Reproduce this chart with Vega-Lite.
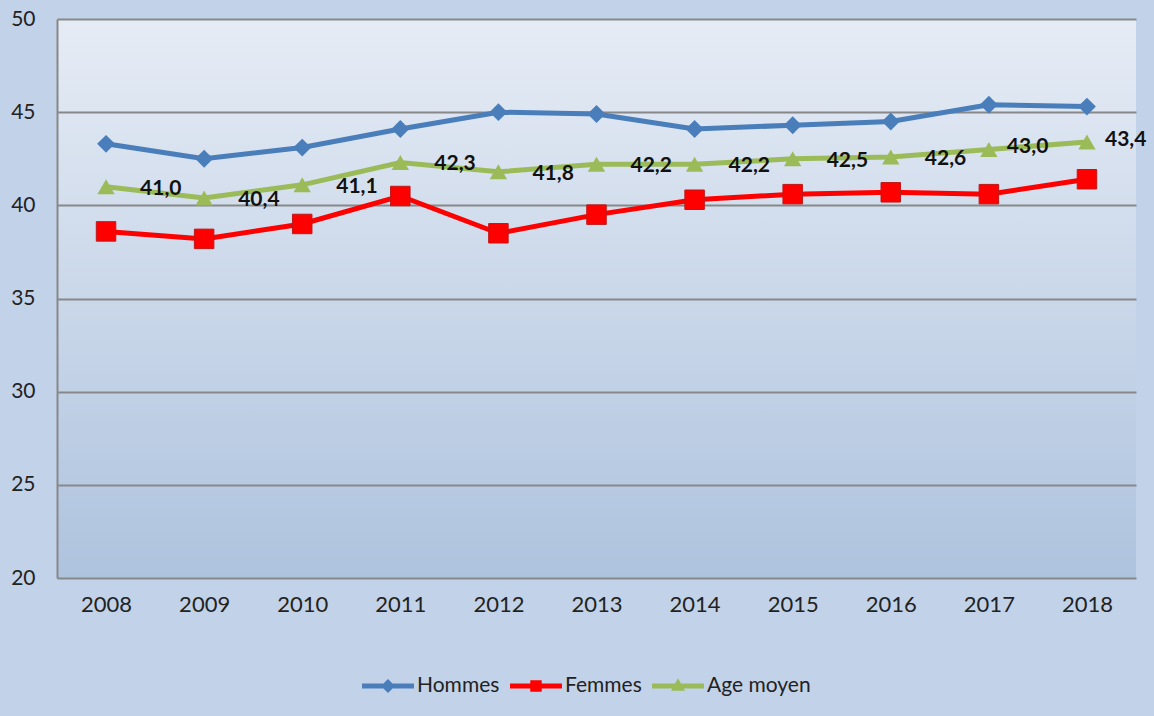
{
  "$schema": "https://vega.github.io/schema/vega-lite/v6.json",
  "width": 1079,
  "height": 559,
  "autosize": "none",
  "padding": {"left": 57, "top": 19, "right": 18, "bottom": 138},
  "background": "#c2d2e8",
  "config": {
    "font": "Lato",
    "view": {
      "stroke": null,
      "fill": {"gradient": "linear", "x1": 0, "y1": 0, "x2": 0, "y2": 1,
        "stops": [{"offset": 0, "color": "#e6ecf5"}, {"offset": 1, "color": "#aec3de"}]}
    },
    "locale": {"number": {"decimal": ",", "thousands": " ", "grouping": [3], "currency": ["", " €"]}}
  },
  "data": {
    "values": [
      {"year": "2008", "serie": "Hommes", "value": 43.3},
      {"year": "2009", "serie": "Hommes", "value": 42.5},
      {"year": "2010", "serie": "Hommes", "value": 43.1},
      {"year": "2011", "serie": "Hommes", "value": 44.1},
      {"year": "2012", "serie": "Hommes", "value": 45.0},
      {"year": "2013", "serie": "Hommes", "value": 44.9},
      {"year": "2014", "serie": "Hommes", "value": 44.1},
      {"year": "2015", "serie": "Hommes", "value": 44.3},
      {"year": "2016", "serie": "Hommes", "value": 44.5},
      {"year": "2017", "serie": "Hommes", "value": 45.4},
      {"year": "2018", "serie": "Hommes", "value": 45.3},
      {"year": "2008", "serie": "Femmes", "value": 38.6},
      {"year": "2009", "serie": "Femmes", "value": 38.2},
      {"year": "2010", "serie": "Femmes", "value": 39.0},
      {"year": "2011", "serie": "Femmes", "value": 40.5},
      {"year": "2012", "serie": "Femmes", "value": 38.5},
      {"year": "2013", "serie": "Femmes", "value": 39.5},
      {"year": "2014", "serie": "Femmes", "value": 40.3},
      {"year": "2015", "serie": "Femmes", "value": 40.6},
      {"year": "2016", "serie": "Femmes", "value": 40.7},
      {"year": "2017", "serie": "Femmes", "value": 40.6},
      {"year": "2018", "serie": "Femmes", "value": 41.4},
      {"year": "2008", "serie": "Age moyen", "value": 41.0},
      {"year": "2009", "serie": "Age moyen", "value": 40.4},
      {"year": "2010", "serie": "Age moyen", "value": 41.1},
      {"year": "2011", "serie": "Age moyen", "value": 42.3},
      {"year": "2012", "serie": "Age moyen", "value": 41.8},
      {"year": "2013", "serie": "Age moyen", "value": 42.2},
      {"year": "2014", "serie": "Age moyen", "value": 42.2},
      {"year": "2015", "serie": "Age moyen", "value": 42.5},
      {"year": "2016", "serie": "Age moyen", "value": 42.6},
      {"year": "2017", "serie": "Age moyen", "value": 43.0},
      {"year": "2018", "serie": "Age moyen", "value": 43.4}
    ]
  },
  "encoding": {
    "x": {
      "field": "year", "type": "ordinal", "title": null,
      "axis": {"domain": false, "ticks": false, "labelAngle": 0, "labelPadding": 16, "labelFontSize": 22, "labelColor": "#222222", "grid": false}
    },
    "y": {
      "field": "value", "type": "quantitative", "title": null,
      "scale": {"domain": [20, 50], "nice": false, "zero": false},
      "axis": {"values": [20, 25, 30, 35, 40, 45, 50], "domainColor": "#888888", "domainWidth": 2, "ticks": false, "labelPadding": 22, "labelFontSize": 21, "labelColor": "#222222", "gridColor": "#888888", "gridWidth": 2}
    },
    "color": {"field": "serie", "type": "nominal",
      "scale": {"domain": ["Hommes", "Femmes", "Age moyen"], "range": ["#4a7ebb", "#ff0000", "#9bbb59"]},
      "legend": {
        "orient": "none", "legendX": 305, "legendY": 641, "direction": "horizontal", "title": null,
        "padding": 0, "labelFontSize": 21, "labelColor": "#222222", "labelFont": "Lato",
        "symbolSize": 2700, "symbolStrokeWidth": 0, "symbolOpacity": 1, "labelOffset": 3, "columnPadding": 10,
        "encode": {"symbols": {"update": {
          "fill": {"scale": "color", "field": "value"},
          "strokeWidth": {"value": 0},
          "opacity": {"value": 1},
          "size": {"value": 2700},
          "shape": {"signal": "datum.value === 'Hommes' ? 'M-1,-0.1H1V0.1H-1Z M0,-0.27L0.27,0L0,0.27L-0.27,0Z' : datum.value === 'Femmes' ? 'M-1,-0.1H1V0.1H-1Z M-0.22,-0.22H0.22V0.22H-0.22Z' : 'M-1,-0.1H1V0.1H-1Z M0,-0.3L0.27,0.18L-0.27,0.18Z'"}}}}
      }}
  },
  "layer": [
    {
      "mark": {"type": "line", "strokeWidth": 5}
    },
    {
      "transform": [{"filter": "datum.serie === 'Hommes'"}],
      "mark": {"type": "point", "filled": true, "opacity": 1, "shape": "diamond", "size": 320}
    },
    {
      "transform": [{"filter": "datum.serie === 'Femmes'"}],
      "mark": {"type": "point", "filled": true, "opacity": 1, "shape": "square", "size": 380, "stroke": "#c01818", "strokeWidth": 1}
    },
    {
      "transform": [{"filter": "datum.serie === 'Age moyen'"}],
      "mark": {"type": "point", "filled": true, "opacity": 1, "shape": "triangle-up", "size": 300}
    },
    {
      "transform": [{"filter": "datum.serie === 'Age moyen' && datum.year < '2017'"}],
      "mark": {"type": "text", "align": "left", "baseline": "middle", "dx": 34, "dy": 2, "fontSize": 21, "fontWeight": "bold"},
      "encoding": {"text": {"field": "value", "type": "quantitative", "format": ".1f"}, "color": {"value": "#111111"}}
    },
    {
      "transform": [{"filter": "datum.serie === 'Age moyen' && datum.year >= '2017'"}],
      "mark": {"type": "text", "align": "left", "baseline": "middle", "dx": 18, "dy": -2, "fontSize": 21, "fontWeight": "bold"},
      "encoding": {"text": {"field": "value", "type": "quantitative", "format": ".1f"}, "color": {"value": "#111111"}}
    }
  ]
}
